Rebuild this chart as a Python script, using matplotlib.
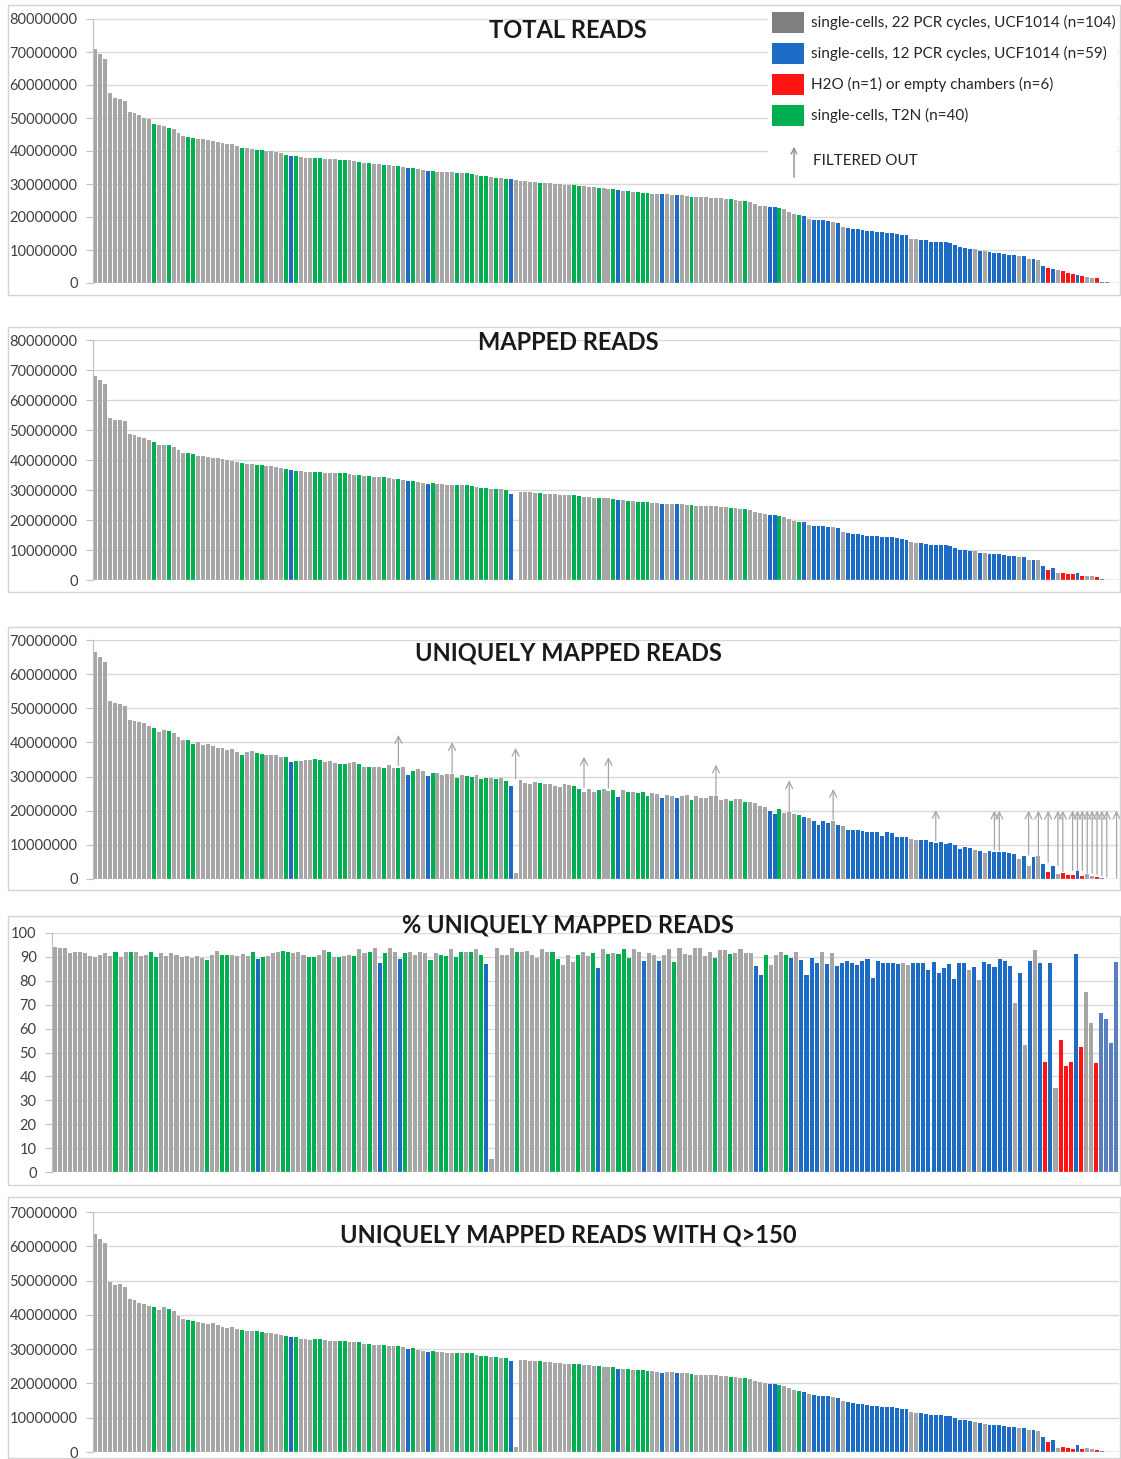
import numpy as np
import matplotlib
matplotlib.use("Agg")
import matplotlib.pyplot as plt
from matplotlib.patches import Rectangle, FancyArrowPatch
from matplotlib.ticker import FuncFormatter

plt.rcParams['font.family'] = ['Lato', 'DejaVu Sans']

# one code per library, ordered by total reads
# G = 22 PCR cycles, B = 12 PCR cycles, R = H2O / empty, T = T2N, S = 12 cycles (highlighted)
groups = ("GGGGGGGGGG" "GGTGGTGGGT" "TGGGGGGGGG" "TGGTTGGGGT" "BTGGGTTGGG"
          "TTGGTGTGGT" "GGTGBTGGBT" "GGGGTGTTGT" "TGTGTBGGGG" "GTGGGGGGTT"
          "GGGTGGTBGT" "GTTTGGBGGB" "GGTGGGGGGG" "TGGTGGGGBB" "TGGGTBGBBB"
          "BGBGBBBBBB" "BBBBBBBGGB" "BBBBBBBBBB" "GBGBBBBBBG" "BGBGBRBGRR"
          "RBRGGRSSSS")

# reads in millions
total_m = [
    70.8, 69.3, 67.8, 57.7, 56.2, 55.9, 55.2, 51.9, 51.6, 50.8,
    50.1, 49.6, 48.1, 47.8, 47.5, 47.0, 46.6, 45.6, 44.5, 44.2,
    43.9, 43.7, 43.5, 43.2, 43.0, 42.8, 42.5, 42.2, 42.0, 41.6,
    41.0, 40.9, 40.7, 40.4, 40.3, 40.1, 40.0, 39.8, 39.5, 38.9,
    38.6, 38.4, 38.1, 38.0, 37.9, 37.9, 37.8, 37.6, 37.5, 37.5,
    37.4, 37.4, 37.2, 36.9, 36.7, 36.5, 36.4, 36.2, 36.0, 35.9,
    35.7, 35.6, 35.4, 35.2, 35.0, 34.7, 34.4, 34.2, 33.9, 33.9,
    33.7, 33.6, 33.5, 33.5, 33.4, 33.3, 33.2, 33.1, 32.6, 32.4,
    32.3, 32.1, 31.9, 31.8, 31.6, 31.4, 31.2, 31.0, 30.9, 30.7,
    30.5, 30.4, 30.3, 30.2, 30.1, 30.0, 29.8, 29.7, 29.6, 29.5,
    29.3, 29.2, 29.0, 28.8, 28.7, 28.6, 28.5, 28.2, 28.0, 27.9,
    27.7, 27.5, 27.3, 27.2, 27.1, 27.0, 26.9, 26.9, 26.8, 26.7,
    26.6, 26.4, 26.2, 26.1, 26.0, 26.0, 25.9, 25.9, 25.7, 25.5,
    25.4, 25.2, 25.0, 24.8, 24.6, 24.0, 23.4, 23.2, 23.1, 23.0,
    22.6, 22.3, 21.6, 20.8, 20.5, 20.3, 19.3, 19.1, 19.1, 19.0,
    18.9, 18.6, 18.3, 17.0, 16.8, 16.5, 16.3, 16.1, 15.8, 15.7,
    15.5, 15.4, 15.3, 15.1, 14.8, 14.5, 14.4, 13.4, 13.3, 13.1,
    12.9, 12.5, 12.4, 12.4, 12.3, 12.2, 11.4, 10.8, 10.7, 10.4,
    10.2, 9.7, 9.6, 9.3, 9.2, 9.2, 8.8, 8.6, 8.4, 8.2,
    8.1, 7.4, 7.3, 7.1, 5.1, 4.5, 4.2, 4.0, 3.5, 3.0,
    2.7, 2.4, 2.0, 1.8, 1.6, 1.4, 0.4, 0.2, 0.1, 0.1]

mapped_m = [
    68.0, 66.8, 65.5, 54.0, 53.5, 53.2, 53.0, 48.6, 48.3, 47.8,
    47.4, 46.8, 45.9, 45.0, 45.1, 44.9, 44.5, 43.3, 42.2, 42.3,
    41.9, 41.5, 41.2, 41.0, 40.8, 40.6, 40.3, 40.0, 39.8, 39.5,
    39.1, 38.8, 38.6, 38.5, 38.4, 38.1, 38.0, 37.8, 37.5, 37.1,
    36.6, 36.5, 36.2, 36.1, 36.0, 36.1, 36.0, 35.7, 35.6, 35.6,
    35.6, 35.6, 35.3, 35.1, 35.0, 34.7, 34.6, 34.4, 34.2, 34.2,
    33.9, 33.8, 33.7, 33.4, 33.1, 33.0, 32.7, 32.5, 32.1, 32.2,
    32.0, 31.9, 31.8, 31.8, 31.8, 31.6, 31.6, 31.5, 31.0, 30.8,
    30.7, 30.5, 30.3, 30.2, 30.0, 28.6, 0.0, 29.5, 29.4, 29.2,
    29.0, 28.9, 28.8, 28.7, 28.6, 28.5, 28.3, 28.2, 28.2, 28.0,
    27.8, 27.7, 27.5, 27.4, 27.3, 27.2, 27.1, 26.6, 26.6, 26.5,
    26.3, 26.1, 26.0, 25.9, 25.7, 25.6, 25.4, 25.5, 25.4, 25.2,
    25.2, 25.0, 24.9, 24.8, 24.7, 24.7, 24.6, 24.6, 24.4, 24.2,
    24.1, 23.9, 23.8, 23.6, 23.4, 22.8, 22.2, 22.0, 21.8, 21.7,
    21.5, 21.0, 20.5, 19.8, 19.5, 19.2, 18.3, 18.0, 18.0, 17.9,
    17.8, 17.6, 17.2, 16.1, 15.8, 15.5, 15.3, 15.1, 14.8, 14.7,
    14.6, 14.5, 14.4, 14.2, 13.9, 13.6, 13.5, 12.6, 12.5, 12.3,
    12.1, 11.8, 11.7, 11.7, 11.6, 11.5, 10.7, 10.1, 10.1, 9.8,
    9.6, 9.1, 9.0, 8.7, 8.6, 8.6, 8.3, 8.1, 7.9, 7.6,
    7.6, 6.8, 6.8, 6.7, 4.7, 3.5, 3.9, 2.5, 2.5, 2.0,
    1.9, 2.3, 1.5, 1.5, 1.2, 0.9, 0.3, 0.1, 0.1, 0.1]

unique_m = [
    66.6, 64.9, 63.5, 52.0, 51.6, 51.3, 50.8, 46.6, 46.3, 45.9,
    45.6, 44.7, 44.3, 43.0, 43.7, 43.4, 42.8, 41.5, 40.6, 40.7,
    39.5, 40.0, 39.2, 39.5, 39.1, 38.5, 38.5, 37.8, 38.0, 37.2,
    36.4, 37.2, 37.6, 36.8, 36.7, 36.4, 36.2, 36.3, 35.7, 35.8,
    34.4, 34.6, 34.5, 34.8, 34.9, 35.1, 34.8, 34.4, 34.5, 34.1,
    33.6, 33.6, 33.9, 34.3, 33.8, 32.9, 32.8, 32.8, 32.8, 32.5,
    33.3, 32.6, 32.6, 32.9, 30.6, 31.7, 32.2, 31.5, 30.2, 31.0,
    31.0, 30.6, 30.8, 30.7, 29.6, 30.5, 30.2, 30.0, 30.4, 29.2,
    29.7, 29.5, 29.3, 29.7, 28.7, 27.3, 1.7, 29.1, 28.1, 27.9,
    28.5, 28.0, 27.9, 27.9, 27.3, 26.9, 27.8, 27.4, 27.2, 26.3,
    25.4, 26.5, 25.5, 26.1, 26.4, 25.8, 26.1, 24.1, 26.1, 25.4,
    25.4, 25.1, 25.5, 24.4, 25.3, 24.8, 23.8, 24.6, 24.3, 23.6,
    24.2, 24.6, 23.1, 24.4, 23.7, 23.6, 24.2, 24.2, 23.2, 23.5,
    22.8, 23.4, 23.3, 22.6, 22.5, 22.4, 21.4, 21.2, 19.9, 19.0,
    20.6, 19.3, 19.6, 19.1, 18.6, 18.2, 17.8, 17.0, 15.8, 17.0,
    16.5, 17.1, 15.9, 15.6, 14.4, 14.4, 14.4, 14.1, 13.7, 13.9,
    13.8, 12.5, 13.8, 13.4, 12.4, 12.3, 12.3, 11.7, 11.5, 11.4,
    11.3, 10.9, 10.5, 10.9, 10.3, 10.4, 9.9, 8.7, 9.4, 9.1,
    8.6, 8.3, 7.7, 8.2, 8.0, 7.9, 7.8, 7.6, 7.2, 5.8,
    6.7, 3.9, 6.5, 6.6, 4.5, 2.1, 3.7, 1.4, 1.9, 1.3,
    1.2, 2.2, 1.0, 1.4, 1.0, 0.6, 0.3, 0.1, 0.1, 0.1]

pct_unique = [
    94.0, 93.6, 93.6, 91.5, 92.0, 92.0, 91.8, 90.5, 90.0, 90.8,
    91.5, 90.5, 92.0, 89.8, 92.0, 92.0, 92.0, 90.5, 91.0, 92.0,
    90.0, 91.5, 90.2, 91.5, 91.0, 90.0, 90.5, 89.5, 90.5, 89.5,
    88.7, 91.0, 92.5, 91.0, 91.0, 90.8, 90.5, 91.2, 90.5, 92.0,
    89.0, 90.0, 90.5, 91.5, 92.0, 92.5, 92.0, 91.5, 92.0, 91.0,
    89.8, 89.8, 91.0, 93.0, 92.0, 90.0, 90.0, 90.5, 91.0, 90.5,
    93.2, 91.5, 92.0, 93.6, 87.3, 91.5, 93.6, 92.0, 89.0, 91.5,
    92.0, 91.0, 92.0, 91.5, 88.7, 91.5, 91.0, 90.5, 93.3, 90.0,
    92.0, 92.0, 92.0, 93.3, 90.8, 86.9, 5.5, 93.9, 90.8, 91.0,
    93.6, 92.0, 92.0, 92.5, 90.8, 89.7, 93.3, 92.2, 92.0, 89.2,
    86.7, 90.8, 87.8, 90.6, 92.0, 90.3, 91.5, 85.5, 93.3, 91.2,
    91.6, 91.2, 93.3, 89.7, 93.3, 92.0, 88.3, 91.6, 90.8, 88.3,
    90.8, 93.3, 88.0, 93.6, 91.1, 90.8, 93.6, 93.6, 90.3, 92.0,
    89.7, 93.0, 93.0, 91.1, 91.6, 93.3, 91.5, 91.5, 86.0, 82.5,
    91.0, 86.7, 90.8, 92.0, 90.8, 89.5, 92.0, 88.8, 82.5, 89.5,
    87.5, 92.0, 87.0, 91.5, 86.0, 87.5, 88.3, 87.5, 86.7, 88.3,
    89.0, 81.0, 88.4, 87.3, 87.3, 87.3, 86.9, 87.3, 86.6, 87.3,
    87.6, 87.3, 84.5, 88.0, 83.4, 85.2, 87.0, 80.6, 87.6, 87.3,
    84.5, 85.9, 80.3, 87.9, 87.0, 85.9, 89.0, 88.4, 86.2, 70.6,
    83.1, 53.1, 88.4, 92.9, 87.6, 46.2, 87.6, 35.0, 55.2, 44.4,
    46.2, 91.2, 52.4, 75.5, 62.2, 45.7, 66.4, 63.9, 54.1, 88.0]

q150_m = [
    63.5, 62.0, 61.0, 49.6, 48.6, 48.9, 48.0, 44.5, 44.2, 43.6,
    43.3, 42.5, 42.4, 41.5, 42.2, 41.8, 41.0, 39.6, 38.7, 38.6,
    38.3, 37.8, 37.6, 37.2, 37.5, 36.9, 36.6, 36.3, 36.4, 35.8,
    35.6, 35.4, 35.3, 35.3, 35.1, 34.8, 34.6, 34.5, 34.2, 33.9,
    33.4, 33.4, 33.0, 32.9, 32.8, 33.1, 33.0, 32.6, 32.5, 32.4,
    32.5, 32.4, 32.2, 32.0, 32.0, 31.6, 31.6, 31.3, 31.1, 31.2,
    30.9, 30.8, 30.8, 30.5, 30.0, 30.2, 29.8, 29.6, 29.1, 29.5,
    29.2, 29.1, 29.0, 29.0, 29.0, 28.8, 28.9, 28.8, 28.2, 28.1,
    28.1, 27.8, 27.7, 27.5, 27.5, 26.6, 1.5, 26.9, 26.8, 26.6,
    26.5, 26.4, 26.3, 26.2, 26.1, 26.0, 25.8, 25.7, 25.8, 25.6,
    25.3, 25.3, 25.0, 25.0, 24.9, 24.8, 24.8, 24.3, 24.3, 24.2,
    24.0, 23.9, 23.8, 23.7, 23.5, 23.4, 23.1, 23.3, 23.2, 22.9,
    23.0, 22.9, 22.8, 22.6, 22.5, 22.5, 22.4, 22.4, 22.2, 22.1,
    22.0, 21.8, 21.7, 21.5, 21.3, 20.8, 20.3, 20.1, 19.9, 19.8,
    19.6, 19.2, 18.7, 18.0, 17.8, 17.5, 16.8, 16.5, 16.4, 16.4,
    16.3, 16.1, 15.8, 14.8, 14.5, 14.2, 14.1, 13.9, 13.6, 13.5,
    13.4, 13.2, 13.2, 13.0, 12.7, 12.5, 12.4, 11.6, 11.5, 11.3,
    11.1, 10.8, 10.7, 10.7, 10.6, 10.5, 9.8, 9.3, 9.2, 9.0,
    8.8, 8.4, 8.3, 8.0, 7.9, 7.9, 7.6, 7.4, 7.2, 7.0,
    7.0, 6.3, 6.3, 6.1, 4.4, 3.0, 3.6, 1.2, 1.6, 1.1,
    1.0, 2.1, 0.9, 1.3, 0.9, 0.5, 0.2, 0.1, 0.1, 0.1]

# libraries removed before downstream analysis
filtered = [62, 73, 86, 100, 105, 127, 142, 151, 172, 184, 185,
            191, 193, 195, 197, 198, 200, 201, 202, 203, 204, 205, 206, 207, 209]

legend_labels = ["single-cells, 22 PCR cycles, UCF1014 (n=104)",
                 "single-cells, 12 PCR cycles, UCF1014 (n=59)",
                 "H2O (n=1) or empty chambers (n=6)",
                 "single-cells, T2N (n=40)"]

colors = {'G': '#a6a6a6', 'B': '#1c6cc6', 'R': '#ff1414', 'T': '#00b050', 'S': '#5a7fc0'}
legend_colors = ['#7f7f7f', '#1c6cc6', '#ff1414', '#00b050']

W, H = 1121, 1459
fig = plt.figure(figsize=(W / 100, H / 100), dpi=100)
fig.patch.set_facecolor('white')

n = len(groups)
x = np.arange(n)
bar_colors = [colors[g] for g in groups]


def px_axes(left, top, right, bottom):
    return fig.add_axes([left / W, 1 - bottom / H, (right - left) / W, (bottom - top) / H])


def frame(left, top, right, bottom):
    fig.patches.append(Rectangle((left / W, 1 - bottom / H), (right - left) / W, (bottom - top) / H,
                                 transform=fig.transFigure, fill=False, edgecolor='#d4d4d4', lw=1))


def panel(box, values, ymax, step, scale):
    ax = px_axes(*box)
    ax.bar(x, np.array(values) * scale, width=0.8, color=bar_colors, linewidth=0)
    ax.set_xlim(-0.5, n - 0.5)
    ax.set_ylim(0, ymax)
    ax.set_yticks(np.arange(0, ymax + step / 2, step))
    ax.yaxis.set_major_formatter(FuncFormatter(lambda v, p: f"{v:.0f}"))
    ax.yaxis.grid(True, color='#d9d9d9', lw=1)
    ax.set_axisbelow(True)
    for s in ['top', 'right', 'bottom']:
        ax.spines[s].set_visible(False)
    ax.spines['left'].set_color('#bfbfbf')
    ax.axhline(0, color='#bfbfbf', lw=1)
    ax.set_xticks([])
    ax.tick_params(axis='y', length=5, color='#bfbfbf', labelsize=10.5,
                   labelcolor='#404040', pad=6)
    return ax


def title(ypx, text):
    fig.text(568 / W, 1 - ypx / H, text, ha='center', va='center',
             fontsize=17, fontweight='bold', color='#1a1a1a')


frame(8, 5, 1120, 295)
frame(8, 327, 1120, 592)
frame(8, 627, 1120, 890)
frame(8, 916, 1120, 1185)
frame(8, 1197, 1120, 1458)

ax1 = panel((93, 19, 1119, 283), total_m, 80e6, 10e6, 1e6)
ax2 = panel((93, 340, 1119, 580), mapped_m, 80e6, 10e6, 1e6)
ax3 = panel((93, 640, 1119, 879), unique_m, 70e6, 10e6, 1e6)
ax4 = panel((52, 933, 1119, 1172), pct_unique, 100, 10, 1)
ax5 = panel((93, 1212, 1119, 1452), q150_m, 70e6, 10e6, 1e6)

title(30, "TOTAL READS")
title(343, "MAPPED READS")
title(653, "UNIQUELY MAPPED READS")
title(925, "% UNIQUELY MAPPED READS")
title(1235, "UNIQUELY MAPPED READS WITH Q>150")

# arrows over the filtered libraries
for i in filtered:
    base = max(unique_m[max(i - 1, 0):i + 2]) + 0.3
    tip = max(base + 9, 20)
    ax3.annotate('', xy=(i, tip * 1e6), xytext=(i, base * 1e6),
                 arrowprops=dict(arrowstyle='->,head_length=0.5,head_width=0.25',
                                 color='#a6a6a6', lw=0.9, shrinkA=0, shrinkB=0))

# legend block
fig.patches.append(Rectangle((768 / W, 1 - 183 / H), 350 / W, 176 / H,
                             transform=fig.transFigure, facecolor='white', edgecolor='none'))
for k, (lab, col) in enumerate(zip(legend_labels, legend_colors)):
    cy = 22 + 31 * k
    fig.patches.append(Rectangle((772 / W, 1 - (cy + 11) / H), 32 / W, 21 / H,
                                 transform=fig.transFigure, facecolor=col, edgecolor='none'))
    fig.text(811 / W, 1 - cy / H, lab, ha='left', va='center', fontsize=11, color='#262626')

fig.patches.append(FancyArrowPatch((794 / W, 1 - 180 / H), (794 / W, 1 - 144 / H),
                                   transform=fig.transFigure, arrowstyle='->,head_length=4,head_width=2',
                                   color='#8c8c8c', lw=1))
fig.text(813 / W, 1 - 161 / H, "FILTERED OUT", ha='left', va='center', fontsize=11, color='#262626')

fig.savefig("out.png", dpi=100, facecolor='white')
